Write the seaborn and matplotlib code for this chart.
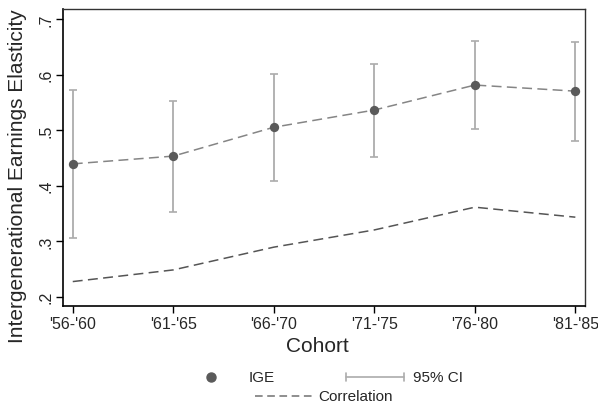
import matplotlib
matplotlib.use("Agg")
import matplotlib.pyplot as plt
import seaborn as sns
import pandas as pd
import numpy as np
from matplotlib.lines import Line2D

cohorts = ["'56-'60", "'61-'65", "'66-'70", "'71-'75", "'76-'80", "'81-'85"]
ige = [0.439, 0.453, 0.505, 0.536, 0.581, 0.570]
ci_low = [0.305, 0.352, 0.408, 0.452, 0.502, 0.481]
ci_high = [0.572, 0.553, 0.601, 0.619, 0.660, 0.658]
correlation = [0.227, 0.248, 0.289, 0.320, 0.361, 0.343]
yticks = [0.2, 0.3, 0.4, 0.5, 0.6, 0.7]
ytick_labels = [".2", ".3", ".4", ".5", ".6", ".7"]

sns.set_style("white")
plt.rcParams['font.family'] = ['Liberation Sans', 'DejaVu Sans']

df = pd.DataFrame({"x": np.arange(len(cohorts)), "cohort": cohorts, "ige": ige,
                   "lo": ci_low, "hi": ci_high, "corr": correlation})

fig = plt.figure(figsize=(5.98, 4.10), dpi=100)
ax = fig.add_axes([63/598, 1-307/410, (585-63)/598, (307-10)/410])

ci_col = "#acacac"
pt_col = "#5a5a5a"

ax.errorbar(df["x"], df["ige"], yerr=[df["ige"]-df["lo"], df["hi"]-df["ige"]],
            fmt="none", ecolor=ci_col, elinewidth=1.3, capsize=2.8, capthick=1.2, zorder=2)
sns.lineplot(data=df, x="x", y="ige", ax=ax, color="#858585", linewidth=1.1,
             linestyle=(0, (6.5, 3.5)), zorder=3, legend=False)
sns.scatterplot(data=df, x="x", y="ige", ax=ax, color=pt_col, s=45, edgecolor=pt_col,
                linewidth=0, zorder=4, legend=False)
sns.lineplot(data=df, x="x", y="corr", ax=ax, color="#555555", linewidth=1.1,
             linestyle=(0, (6.5, 3.5)), zorder=3, legend=False)

ax.set_xlim(-0.097, 5.096)
ax.set_ylim(0.183, 0.718)
ax.set_xticks(df["x"])
ax.set_xticklabels(cohorts, fontsize=11.5)
ax.set_yticks(yticks)
ax.set_yticklabels(ytick_labels, fontsize=11.5, rotation=90, va="center")
ax.tick_params(axis="both", direction="out", length=5, width=1, color="black",
               bottom=True, left=True)
ax.tick_params(axis="x", pad=2)
ax.tick_params(axis="y", pad=2)
ax.set_xlabel("Cohort", fontsize=15)
ax.set_ylabel("Intergenerational Earnings Elasticity", fontsize=15)
ax.xaxis.set_label_coords((317-63)/522, -(347-307)/297)
ax.yaxis.set_label_coords((18-63)/522, (307-176)/297)
ax.xaxis.label.set_va("center")
ax.yaxis.label.set_va("center")

for s in ["left", "bottom"]:
    ax.spines[s].set_color("black")
    ax.spines[s].set_linewidth(1.2)
for s in ["top", "right"]:
    ax.spines[s].set_color("#333333")
    ax.spines[s].set_linewidth(1.0)

# legend
fs = 11
fig.add_artist(Line2D([211/598], [1-378/410], marker="o", color=pt_col, markersize=6.5, linestyle="none"))
fig.text(249/598, 1-378/410, "IGE", fontsize=fs, va="center")
fig.add_artist(Line2D([346/598, 404/598], [1-378/410]*2, color=ci_col, linewidth=1.2))
for xx in [346, 404]:
    fig.add_artist(Line2D([xx/598]*2, [1-374/410, 1-382/410], color=ci_col, linewidth=1.2))
fig.text(413/598, 1-378/410, "95% CI", fontsize=fs, va="center")
fig.add_artist(Line2D([255/598, 315/598], [1-397/410]*2, color="#707070", linewidth=1.1, linestyle=(0, (5, 3))))
fig.text(318/598, 1-397/410, "Correlation", fontsize=fs, va="center")

fig.savefig("out.png", dpi=100)
